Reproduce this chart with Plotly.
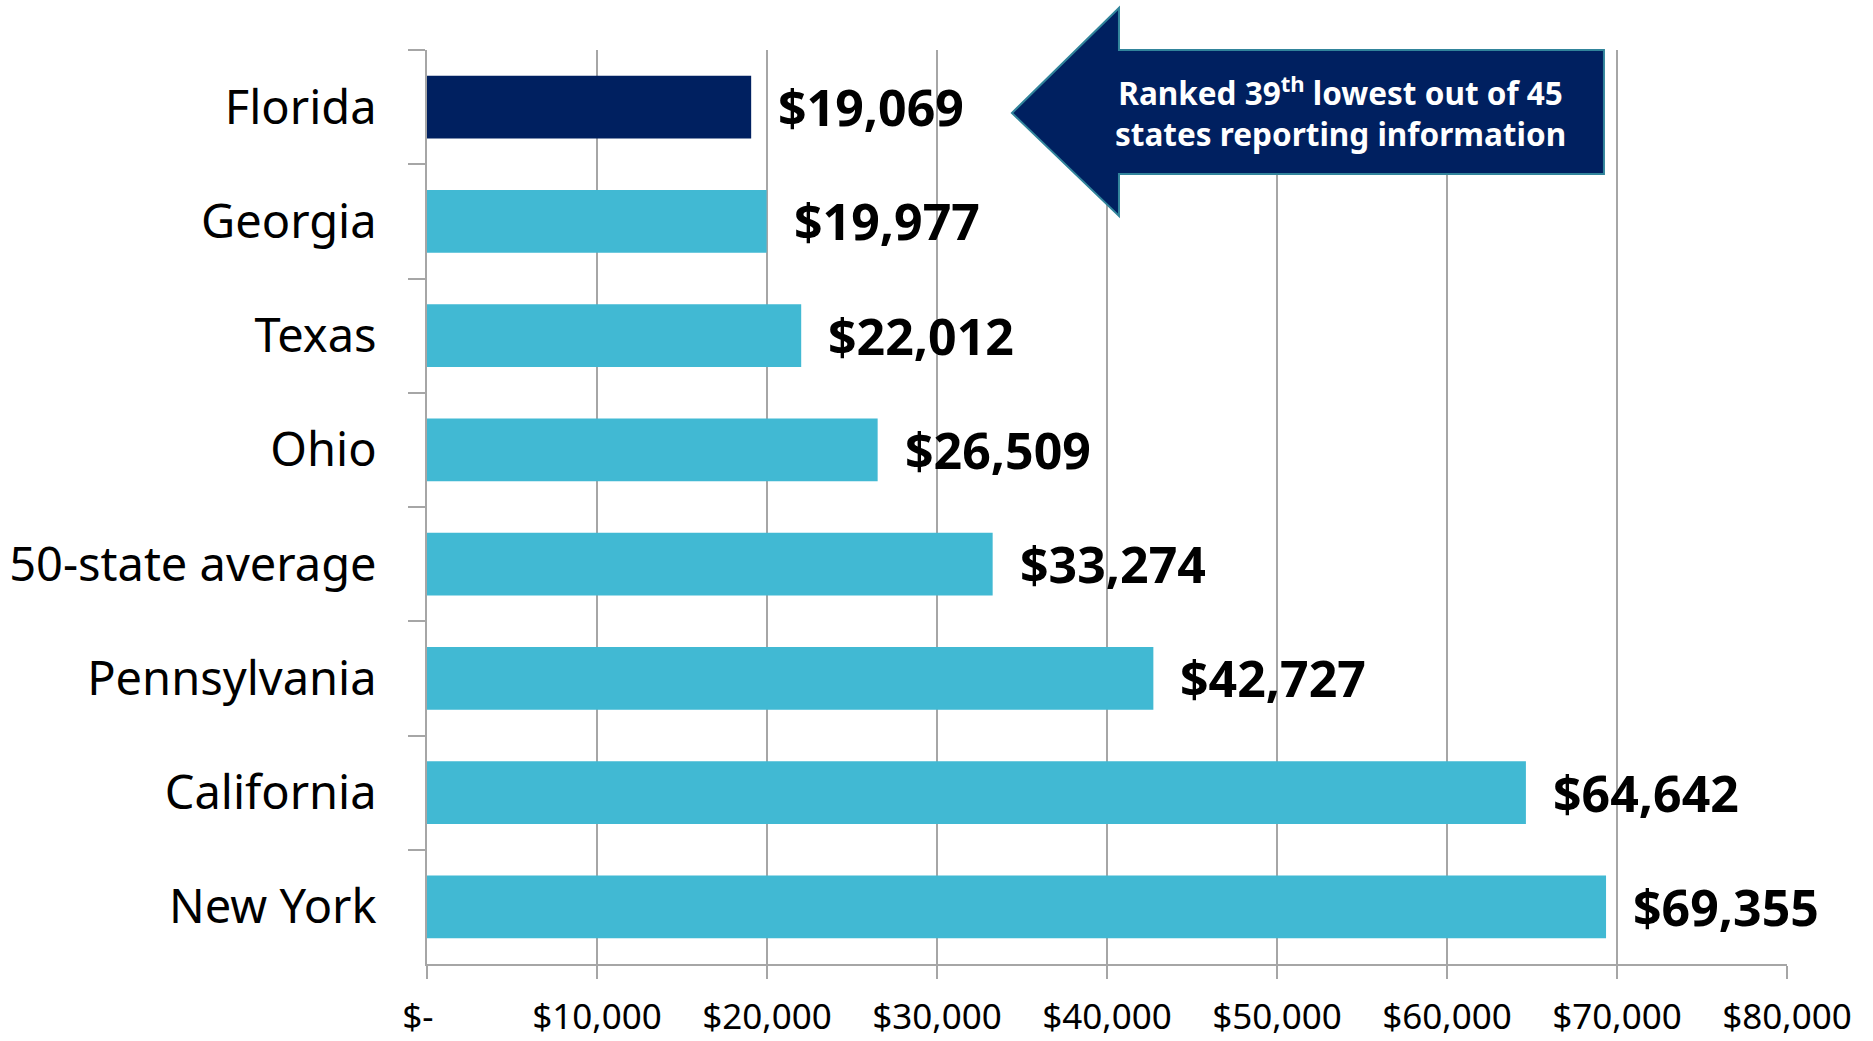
import plotly.graph_objects as go

categories = ["Florida", "Georgia", "Texas", "Ohio", "50-state average",
              "Pennsylvania", "California", "New York"]
values = [19069, 19977, 22012, 26509, 33274, 42727, 64642, 69355]
highlight = "Florida"
tick_vals = [0, 10000, 20000, 30000, 40000, 50000, 60000, 70000, 80000]
tick_text = ["$-\u00a0\u00a0", "$10,000", "$20,000", "$30,000", "$40,000", "$50,000",
             "$60,000", "$70,000", "$80,000"]
callout_text = "Ranked 39<sup>th</sup> lowest out of 45<br>states reporting information"

NAVY = "#002060"
TEAL = "#41B9D3"
GRID = "#A6A6A6"
FONT = "Noto Sans"

colors = [NAVY if c == highlight else TEAL for c in categories]

fig = go.Figure()
fig.add_trace(go.Bar(
    x=values, y=categories, orientation="h",
    marker=dict(color=colors, line=dict(width=0)),
    hoverinfo="skip",
))

for c, v in zip(categories, values):
    fig.add_annotation(
        x=v, y=c, xref="x", yref="y", text=f"${v:,}",
        showarrow=False, xanchor="left", yanchor="middle", xshift=25,
        font=dict(family=FONT, size=50, color="black", weight="bold"),
    )

# callout arrow (paper coords; plot area spans page x 427..1787, y 50..964)
def px(x):
    return (x - 427) / 1360

def py(y):
    return (964 - y) / 914

pts = [(1012, 113), (1119, 8), (1119, 50), (1604, 50), (1604, 174),
       (1119, 174), (1119, 216)]
path = "M " + " L ".join(f"{px(a):.4f},{py(b):.4f}" for a, b in pts) + " Z"
fig.add_shape(type="path", path=path, xref="paper", yref="paper",
              fillcolor=NAVY, line=dict(color="#31849B", width=2), layer="above")
fig.add_annotation(
    x=px(1340), y=py(112), xref="paper", yref="paper", text=callout_text,
    showarrow=False, xanchor="center", yanchor="middle", align="center",
    font=dict(family=FONT, size=31.5, color="white", weight="bold"),
)

fig.update_layout(
    width=1873, height=1041,
    margin=dict(l=427, r=86, t=50, b=77, autoexpand=False),
    plot_bgcolor="white", paper_bgcolor="white",
    bargap=0.45, showlegend=False,
    font=dict(family=FONT, color="black"),
)
fig.update_xaxes(
    range=[0, 80000], tickvals=tick_vals, ticktext=tick_text,
    showgrid=True, gridcolor=GRID, gridwidth=2,
    showline=True, linecolor=GRID, linewidth=2,
    ticks="outside", ticklen=13, tickcolor=GRID, tickwidth=2,
    tickfont=dict(family=FONT, size=35, color="black"),
    ticklabelstandoff=8, zeroline=False, fixedrange=True, automargin=False,
)
fig.update_yaxes(
    categoryorder="array", categoryarray=categories,
    range=[len(categories) - 0.5, -0.5],
    showgrid=False, showline=True, linecolor=GRID, linewidth=2,
    ticks="outside", tickson="boundaries", ticklen=17, tickcolor=GRID, tickwidth=2,
    tickfont=dict(family=FONT, size=47, color="black"),
    ticklabelstandoff=39, fixedrange=True, automargin=False,
)

fig.write_html(
    "out.html",
    config={"displayModeBar": False},
    post_script="document.body.style.margin='0';document.body.style.overflow='hidden';",
)
